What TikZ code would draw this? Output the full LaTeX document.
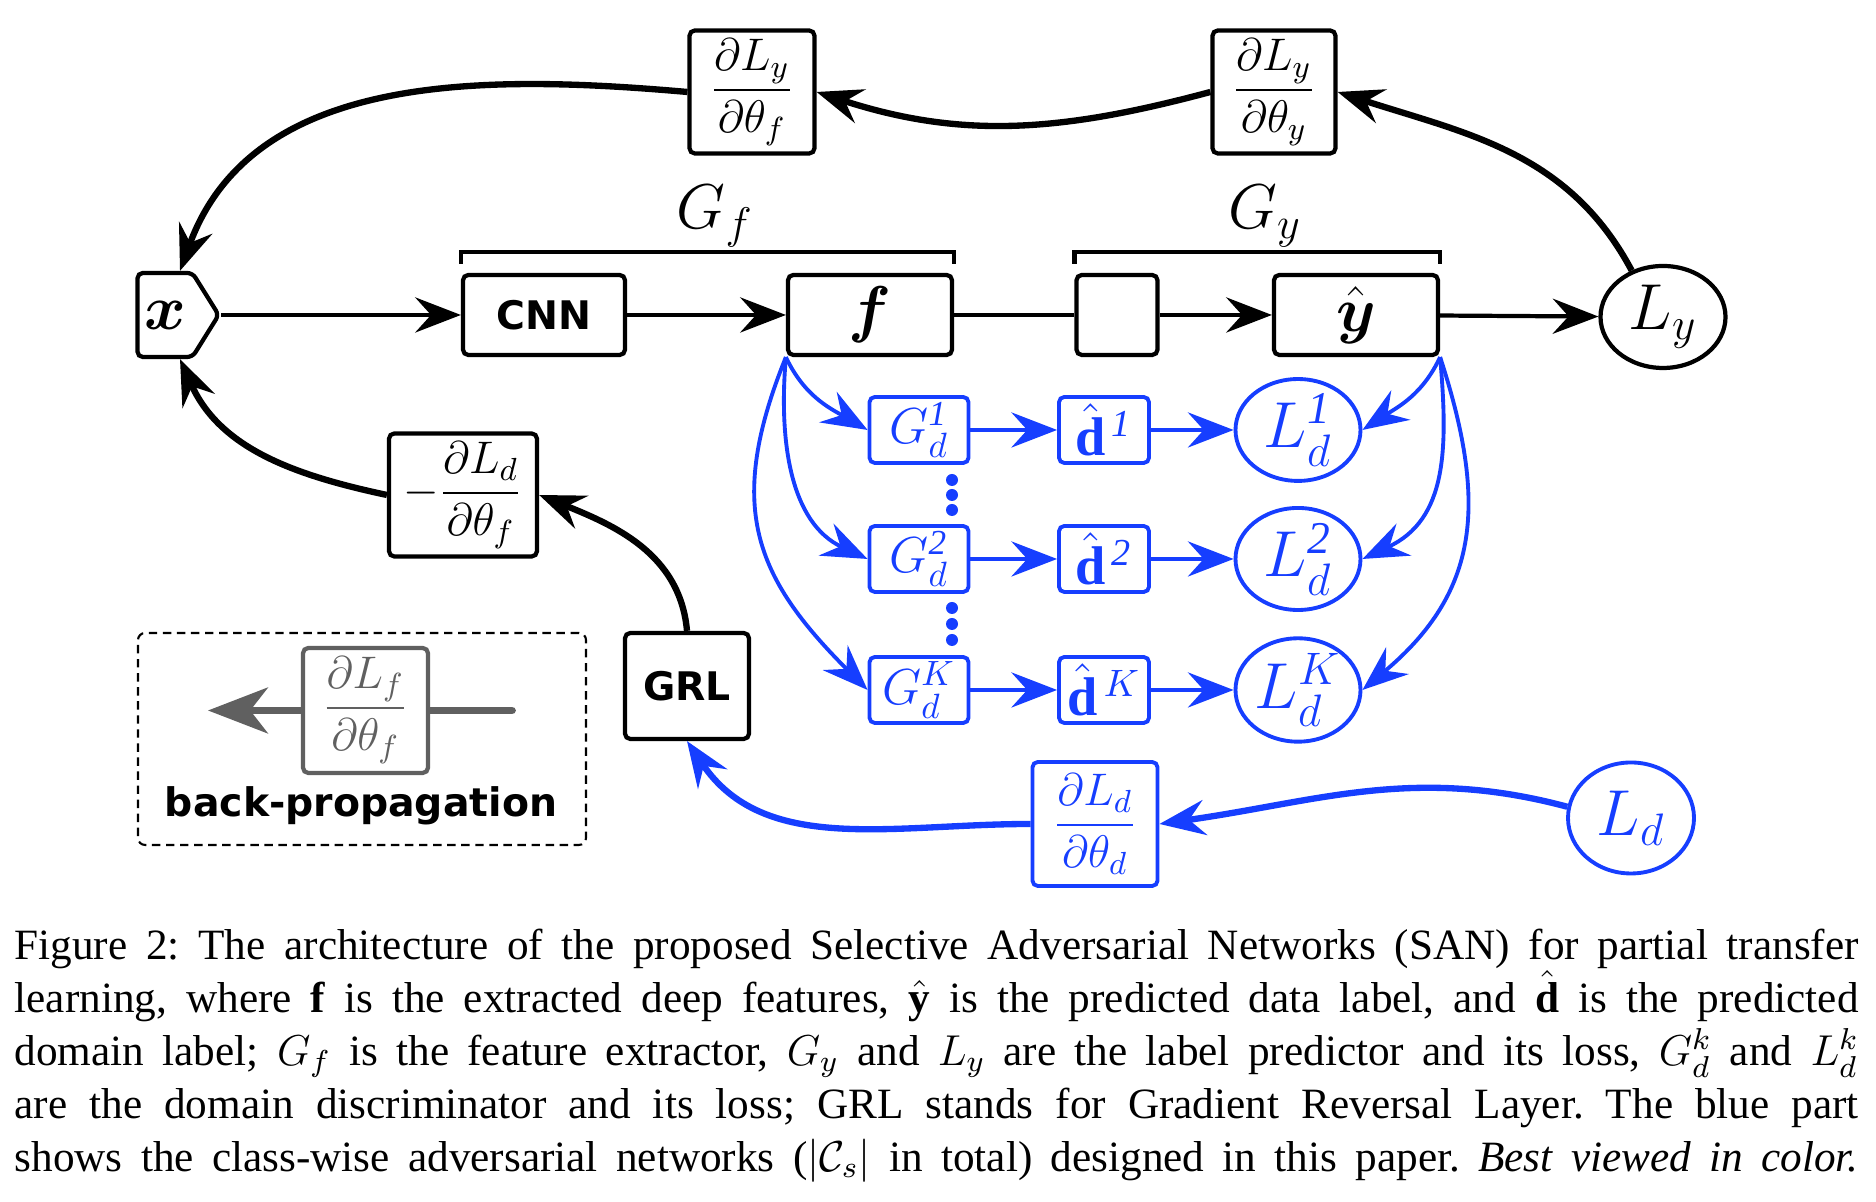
\documentclass[tikz,border=0pt]{standalone}
\usepackage{fix-cm}
\usepackage{amsmath}
\usepackage{amssymb}
\usepackage{xcolor}
\usepackage{fontspec}
\setmainfont{Liberation Serif}
\newfontfamily\labelfont{DejaVu Sans}
\usetikzlibrary{arrows.meta,shapes.geometric,shapes.symbols}

\definecolor{sanblue}{RGB}{22,62,255}
\definecolor{bpgray}{RGB}{96,96,96}

\tikzset{
	>={Stealth[length=13pt,width=10pt,inset=4.5pt]},
	blk/.style={draw, line width=1.2pt, rounded corners=1.5pt, inner sep=0pt, align=center},
	lossnode/.style={draw, ellipse, line width=1.2pt, inner sep=0pt, font=\fontsize{18.5}{20}\selectfont},
	fwd/.style={->, line width=1.2pt},
	bwd/.style={->, line width=1.8pt},
	bluebox/.style={blk, draw=sanblue, text=sanblue, line width=1.1pt, font=\Large},
	blueloss/.style={lossnode, draw=sanblue, text=sanblue, line width=1.1pt},
	fan/.style={->, draw=sanblue, line width=1.1pt},
	bluebwd/.style={->, draw=sanblue, line width=1.8pt},
	brk/.style={line width=1.2pt},
	sansbold/.style={font=\labelfont\bfseries\fontsize{11.2}{13}\selectfont},
	bigmath/.style={font=\fontsize{18}{20}\selectfont},
	fracmath/.style={font=\fontsize{13}{15}\selectfont},
	hatmath/.style={font=\fontsize{15.5}{17}\selectfont},
}

\begin{document}
\begin{tikzpicture}
	\useasboundingbox (0,0) rectangle (18.76,12.02);

	% forward path
	\node[blk, signal, signal to=east, signal pointer angle=116, minimum height=0.84cm, text width=0.43cm, inner xsep=0.06cm, bigmath] (x) at (1.65,8.87) {$\boldsymbol{x}$};
	\node[blk, minimum width=1.62cm, minimum height=0.80cm, sansbold] (cnn) at (5.44,8.87) {CNN};
	\node[blk, minimum width=1.64cm, minimum height=0.80cm, bigmath] (f) at (8.70,8.87) {$\boldsymbol{f}$};
	\node[blk, minimum width=0.81cm, minimum height=0.80cm] (hid) at (11.17,8.87) {};
	\node[blk, minimum width=1.64cm, minimum height=0.80cm, bigmath] (yhat) at (13.56,8.87) {$\hat{\boldsymbol{y}}$};
	\node[lossnode, minimum width=1.25cm, minimum height=1.02cm] (Ly) at (16.63,8.85) {$L_y$};
	\draw[fwd] (x.east) -- (cnn);
	\draw[fwd] (cnn) -- (f);
	\draw[line width=1.2pt] (f) -- (hid);
	\draw[fwd] (hid) -- (yhat);
	\draw[fwd] (yhat) -- (Ly);

	% brackets
	\draw[brk] ([yshift=0.9mm]cnn.north west) -- ++(0,1.2mm) -| ([yshift=0.9mm]f.north east);
	\draw[brk] ([yshift=0.9mm]hid.north west) -- ++(0,1.2mm) -| ([yshift=0.9mm]yhat.north east);
	\node[bigmath] (Gf) at (7.15,9.86) {$G_f$};
	\node[bigmath] (Gy) at (12.65,9.86) {$G_y$};

	% gradients of the label loss
	\node[blk, minimum width=1.25cm, minimum height=1.23cm, fracmath] (gyf) at (7.52,11.10) {$\dfrac{\partial L_y}{\partial\theta_f}$};
	\node[blk, minimum width=1.23cm, minimum height=1.23cm, fracmath] (gyy) at (12.74,11.10) {$\dfrac{\partial L_y}{\partial\theta_y}$};
	\draw[bwd] (Ly.124) to[out=118,in=-18] (gyy.east);
	\draw[bwd] (gyy.west) to[out=195,in=-18] (gyf.east);
	\draw[bwd] (gyf.west) to[out=175,in=70] ([xshift=1.5mm]x.north);

	% gradient of the domain loss
	\node[blk, minimum width=1.48cm, minimum height=1.23cm, fracmath] (gdf) at (4.63,7.07) {$-\dfrac{\partial L_d}{\partial\theta_f}$};
	\node[blk, minimum width=1.24cm, minimum height=1.06cm, sansbold] (grl) at (6.87,5.16) {GRL};
	\draw[bwd] (gdf.west) to[out=168,in=-66] ([xshift=1.5mm]x.south);
	\draw[bwd] (grl.north) to[out=95,in=-22] (gdf.east);

	% class-wise domain discriminators
	\node[bluebox, minimum width=0.99cm, minimum height=0.66cm] (gd1) at (9.19,7.72) {$G_d^{\mathit{1}}$};
	\node[bluebox, minimum width=0.90cm, minimum height=0.66cm, hatmath] (dh1) at (11.04,7.72) {$\hat{\mathbf{d}}^{\,\mathit{1}}$};
	\node[blueloss, minimum width=1.25cm, minimum height=1.00cm] (ld1) at (12.98,7.72) {$L_d^{\mathit{1}}$};
	\node[bluebox, minimum width=0.99cm, minimum height=0.66cm] (gd2) at (9.19,6.43) {$G_d^{\mathit{2}}$};
	\node[bluebox, minimum width=0.90cm, minimum height=0.66cm, hatmath] (dh2) at (11.04,6.43) {$\hat{\mathbf{d}}^{\,\mathit{2}}$};
	\node[blueloss, minimum width=1.25cm, minimum height=1.00cm] (ld2) at (12.98,6.43) {$L_d^{\mathit{2}}$};
	\node[bluebox, minimum width=0.99cm, minimum height=0.66cm] (gdk) at (9.19,5.12) {$G_d^K$};
	\node[bluebox, minimum width=0.90cm, minimum height=0.66cm, hatmath] (dhk) at (11.04,5.12) {$\hat{\mathbf{d}}^{\,K}$};
	\node[blueloss, minimum width=1.25cm, minimum height=1.00cm] (ldk) at (12.98,5.12) {$L_d^K$};
	\draw[fan] (gd1) -- (dh1);
	\draw[fan] (dh1) -- (ld1);
	\draw[fan] (gd2) -- (dh2);
	\draw[fan] (dh2) -- (ld2);
	\draw[fan] (gdk) -- (dhk);
	\draw[fan] (dhk) -- (ldk);
	\fill[sanblue] (9.52,7.22) circle (0.06) (9.52,7.07) circle (0.06) (9.52,6.92) circle (0.06);
	\fill[sanblue] (9.52,5.94) circle (0.06) (9.52,5.78) circle (0.06) (9.52,5.62) circle (0.06);
	\draw[fan] (f.south west) to[out=-65,in=150] (gd1.west);
	\draw[fan] (f.south west) to[out=-95,in=155] (gd2.west);
	\draw[fan] (f.south west) to[out=-112,in=135,looseness=1.2] (gdk.west);
	\draw[fan] (yhat.south east) to[out=-115,in=33] (ld1.east);
	\draw[fan] (yhat.south east) to[out=-85,in=25,looseness=1.1] (ld2.east);
	\draw[fan] (yhat.south east) to[out=-72,in=40,looseness=1.15] (ldk.east);

	% overall domain loss
	\node[bluebox, minimum width=1.25cm, minimum height=1.24cm, fracmath] (gdd) at (10.95,3.78) {$\dfrac{\partial L_d}{\partial\theta_d}$};
	\node[blueloss, minimum width=1.26cm, minimum height=1.11cm] (Ld) at (16.31,3.84) {$L_d$};
	\draw[bluebwd] (Ld.170) to[out=165,in=8] (gdd.east);
	\draw[bluebwd] (gdd.west) to[out=180,in=-56] (grl.south);

	% legend
	\node[draw, dash pattern=on 2.4pt off 1.6pt, rounded corners=2pt, line width=0.6pt, minimum width=4.48cm, minimum height=2.12cm] (legend) at (3.62,4.63) {};
	\node[blk, draw=bpgray, text=bpgray, minimum width=1.25cm, minimum height=1.25cm, fracmath] (bpbox) at (3.655,4.915) {$\dfrac{\partial L_f}{\partial\theta_f}$};
	\coordinate (bpin) at (5.12,4.915);
	\coordinate (bpout) at (2.08,4.915);
	\draw[bpgray, line width=2.2pt, line cap=round] (bpin) -- (bpbox);
	\draw[->, bpgray, line width=2.2pt, >={Stealth[length=17pt,width=13pt,inset=5pt]}] (bpbox) -- (bpout);
	\node[sansbold] (bplabel) at (3.61,3.96) {back-propagation};

	% caption
	\node[anchor=north west, inner sep=0pt, text width=18.44cm, align=justify, font=\fontsize{12.3}{15.1}\selectfont] (caption) at (0.14,2.74) {\frenchspacing\parfillskip=0pt
	Figure 2: The architecture of the proposed Selective Adversarial Networks (SAN) for partial transfer\linebreak
	learning, where $\mathbf{f}$ is the extracted deep features, $\hat{\mathbf{y}}$ is the predicted data label, and $\hat{\mathbf{d}}$ is the predicted\linebreak
	domain label; $G_f$ is the feature extractor, $G_y$ and $L_y$ are the label predictor and its loss, $G_d^k$ and $L_d^k$\linebreak
	are the domain discriminator and its loss; GRL stands for Gradient Reversal Layer. The blue part\linebreak
	shows the class-wise adversarial networks ($|\mathcal{C}_s|$ in total) designed in this paper. \textit{Best viewed in color.}\par};
\end{tikzpicture}
\end{document}
